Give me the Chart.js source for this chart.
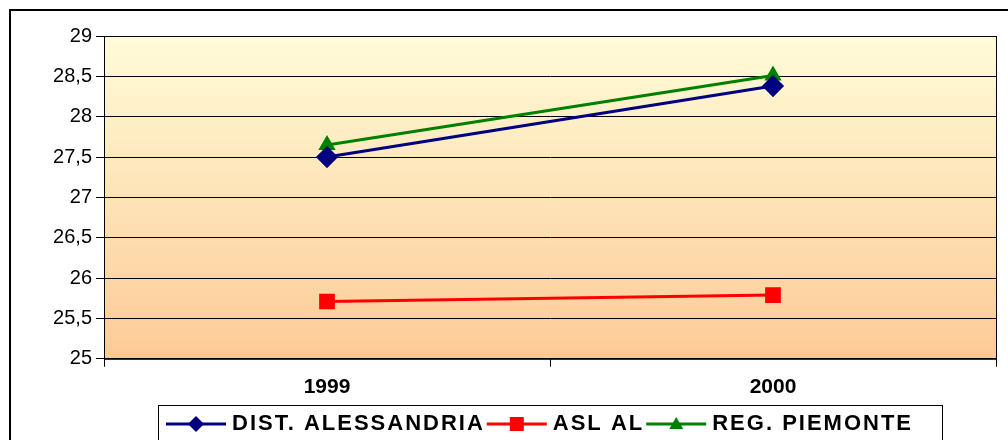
<!DOCTYPE html>
<html><head><meta charset="utf-8">
<script src="https://cdn.jsdelivr.net/npm/chart.js@4"></script>
<style>body{margin:0;background:#fff}canvas{display:block}</style>
</head><body>
<canvas id="c" width="1008" height="440"></canvas>
<script>
const years = ["1999", "2000"];
const distAlessandria = [27.5, 28.38];
const aslAl = [25.71, 25.79];
const regPiemonte = [27.65, 28.51];

const bgPlugin = {
  id: "bg",
  beforeDraw(chart) {
    const {ctx, chartArea: a} = chart;
    const g = ctx.createLinearGradient(0, a.top, 0, a.bottom);
    g.addColorStop(0, "#fffcd8");
    g.addColorStop(1, "#fdca96");
    ctx.save();
    ctx.fillStyle = g;
    ctx.fillRect(a.left, a.top, a.right - a.left, a.bottom - a.top);
    ctx.restore();
  },
  afterDraw(chart) {
    const {ctx, chartArea: a} = chart;
    ctx.save();
    ctx.strokeStyle = "#000";
    ctx.lineWidth = 1;
    ctx.strokeRect(a.left + 0.5, a.top + 0.5, a.right - a.left, a.bottom - a.top);
    ctx.lineWidth = 2;
    ctx.strokeRect(10, 10, 1010, 440);
    // legend
    ctx.lineWidth = 1;
    ctx.strokeRect(158.5, 405.5, 784, 40);
    ctx.font = "bold 22px 'Liberation Sans', Arial";
    ctx.letterSpacing = "2px";
    ctx.textBaseline = "middle";
    const y = 424;
    let x = 166;
    chart.data.datasets.forEach(d => {
      ctx.strokeStyle = d.borderColor;
      ctx.lineWidth = 3;
      ctx.beginPath(); ctx.moveTo(x, y); ctx.lineTo(x + 60, y); ctx.stroke();
      ctx.fillStyle = d.borderColor;
      const cx = x + 30;
      ctx.beginPath();
      if (d.pointStyle === "rectRot") {
        ctx.moveTo(cx, y - 8); ctx.lineTo(cx + 8, y); ctx.lineTo(cx, y + 8); ctx.lineTo(cx - 8, y);
      } else if (d.pointStyle === "rect") {
        ctx.rect(cx - 7, y - 7, 14, 14);
      } else {
        ctx.moveTo(cx, y - 7); ctx.lineTo(cx + 7, y + 5); ctx.lineTo(cx - 7, y + 5);
      }
      ctx.closePath(); ctx.fill();
      ctx.fillStyle = "#000";
      ctx.fillText(d.label, x + 66, y);
      x += 66 + ctx.measureText(d.label).width + 2;
    });
    ctx.restore();
  }
};

new Chart(document.getElementById("c"), {
  type: "line",
  data: {
    labels: years,
    datasets: [
      {label: "DIST. ALESSANDRIA", data: distAlessandria, borderColor: "#000080", backgroundColor: "#000080",
       pointStyle: "rectRot", pointRadius: 9, borderWidth: 3},
      {label: "ASL AL", data: aslAl, borderColor: "#ff0000", backgroundColor: "#ff0000",
       pointStyle: "rect", pointRadius: 9, borderWidth: 3},
      {label: "REG. PIEMONTE", data: regPiemonte, borderColor: "#008000", backgroundColor: "#008000",
       pointStyle: "triangle", pointRadius: 7, borderWidth: 3}
    ]
  },
  options: {
    responsive: false,
    animation: false,
    layout: {padding: {left: 12, top: 36, right: 4, bottom: 32}},
    plugins: {legend: {display: false}, tooltip: {enabled: false}},
    scales: {
      x: {
        offset: true,
        grid: {offset: true, drawOnChartArea: false, color: "#000", tickLength: 8},
        border: {color: "#000"},
        ticks: {color: "#000", font: {family: "'Liberation Sans', Arial", size: 21, weight: "bold"}, padding: 8}
      },
      y: {
        min: 25, max: 29,
        afterFit(s) { s.width = 92; },
        grid: {color: "#000", tickLength: 8},
        border: {color: "#000"},
        ticks: {stepSize: 0.5, color: "#000", font: {family: "'Liberation Sans', Arial", size: 20}, padding: 4,
          callback: v => String(v).replace(".", ",")}
      }
    }
  },
  plugins: [bgPlugin]
});
</script>
</body></html>
